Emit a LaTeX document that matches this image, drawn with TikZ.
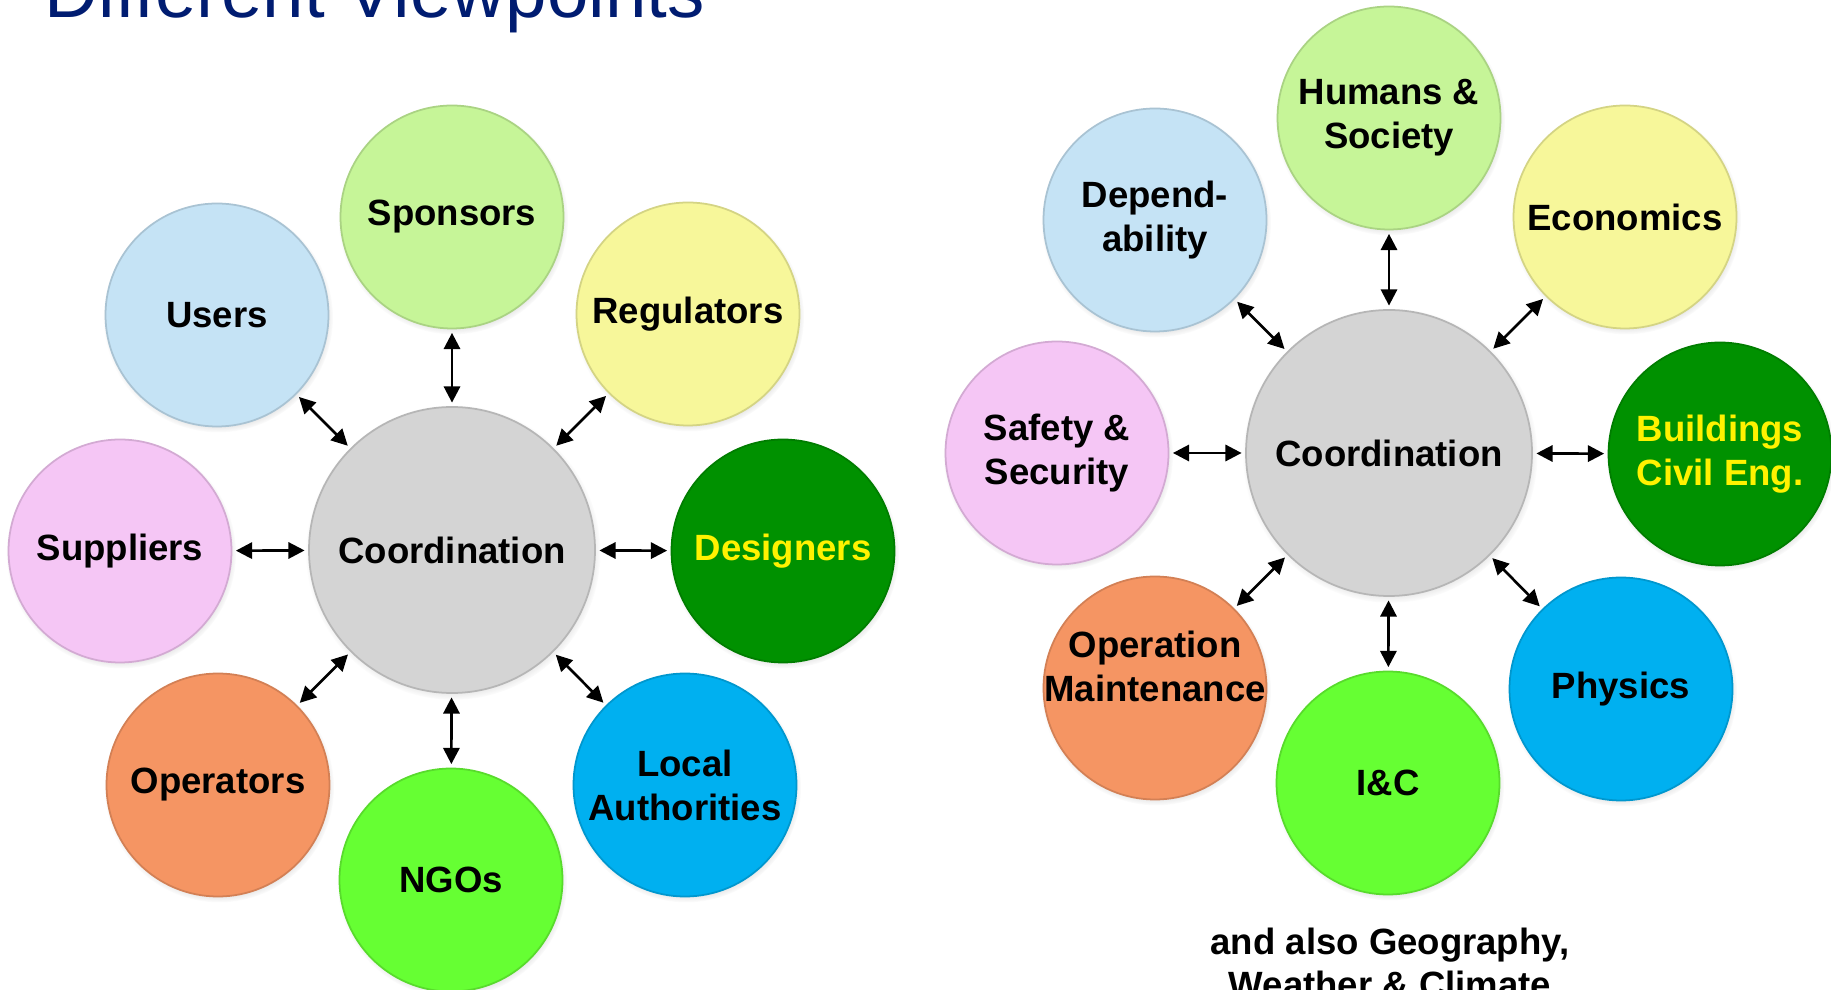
\documentclass[tikz,border=0pt]{standalone}
\usepackage{fontspec}
\setmainfont{Liberation Sans}
\usetikzlibrary{arrows.meta,shadows}

\definecolor{titleblue}{HTML}{001C71}
\definecolor{hubgray}{HTML}{D4D4D4}
\definecolor{skyblue}{HTML}{C5E3F5}
\definecolor{leafgreen}{HTML}{C6F598}
\definecolor{paleyellow}{HTML}{F7F79A}
\definecolor{palepink}{HTML}{F5C6F5}
\definecolor{salmon}{HTML}{F59563}
\definecolor{deepgreen}{HTML}{009100}
\definecolor{limegreen}{HTML}{66FF33}
\definecolor{azure}{HTML}{00B0F0}

\tikzset{
  bubble/.style={circle, minimum size=22.3mm, inner sep=0pt, fill=#1,
    draw=#1!86!black, line width=0.5pt, align=center,
    font=\bfseries\fontsize{10.4}{12.5}\selectfont,
    circular drop shadow={shadow scale=1.03, shadow xshift=0.3pt,
      shadow yshift=-0.7pt, opacity=0.45}},
  hub/.style={bubble=hubgray, minimum size=28.6mm},
  link/.style={{Triangle[length=4.6pt,width=4.6pt]}-{Triangle[length=4.6pt,width=4.6pt]},
    line width=0.75pt, shorten >=1pt, shorten <=1pt}
}

\begin{document}
\begin{tikzpicture}[x=0.1mm,y=-0.1mm]
\clip (0,0) rectangle (1831,990);
\fill[white] (0,0) rectangle (1831,990);

%% heading and footnote
\node[anchor=base west, inner sep=0pt, text=titleblue,
  font=\fontsize{21.2}{25}\selectfont] (title) at (44,18) {Different Viewpoints};
\node[anchor=base, inner sep=0pt, align=center,
  font=\bfseries\fontsize{10.4}{12.5}\selectfont] (note) at (1390,998)
  {and also Geography,\\Weather \& Climate};

%% stakeholders
\node[hub] (coordL) at (452,550) {Coordination};
\node[bubble=leafgreen] (spons) at (452,217) {Sponsors};
\node[bubble=paleyellow] (regul) at (688,314) {Regulators};
\node[bubble=deepgreen, text=yellow] (design) at (783,551) {Designers};
\node[bubble=azure] (local) at (685,785) {Local\\Authorities};
\node[bubble=limegreen] (ngo) at (451,880) {NGOs};
\node[bubble=salmon] (oper) at (218,785) {Operators};
\node[bubble=palepink] (suppl) at (120,551) {Suppliers};
\node[bubble=skyblue] (users) at (217,315) {Users};

%% disciplines
\node[hub] (coordR) at (1389,453) {Coordination};
\node[bubble=leafgreen] (human) at (1389,118) {Humans \&\\Society};
\node[bubble=paleyellow] (econ) at (1625,217) {Economics};
\node[bubble=deepgreen, text=yellow] (build) at (1720,454) {Buildings\\Civil Eng.};
\node[bubble=azure] (phys) at (1621,689) {Physics};
\node[bubble=limegreen] (ic) at (1388,783) {I\&C};
\node[bubble=salmon] (opmaint) at (1155,688) {Operation\\\makebox[0pt]{Maintenance}\\\mbox{}};
\node[bubble=palepink] (safety) at (1057,453) {Safety \&\\Security};
\node[bubble=skyblue] (depend) at (1155,220) {Depend-\\ability};

%% links
\foreach \n in {spons,regul,design,local,ngo,oper,suppl,users}
  \draw[link] (coordL) -- (\n);
\foreach \n in {human,econ,build,phys,ic,opmaint,safety,depend}
  \draw[link] (coordR) -- (\n);

\end{tikzpicture}
\end{document}
